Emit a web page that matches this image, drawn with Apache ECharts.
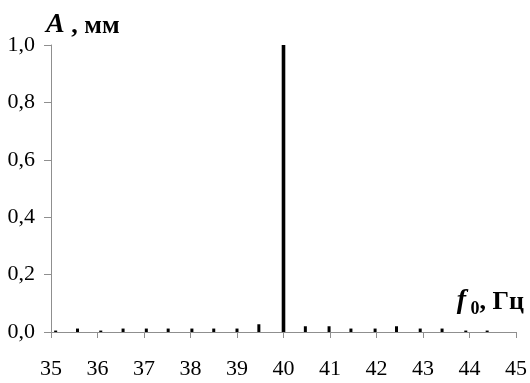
<!DOCTYPE html>
<html>
<head>
<meta charset="utf-8">
<script src="https://cdn.jsdelivr.net/npm/echarts@6/dist/echarts.min.js"></script>
<style>html,body{margin:0;padding:0;background:#fff}#c{width:530px;height:383px}</style>
</head>
<body>
<div id="c"></div>
<script>
var freqs = [35.1, 35.57, 36.07, 36.55, 37.05, 37.52, 38.03, 38.5, 39.0, 39.47, 40.0, 40.47, 40.98, 41.45, 41.97, 42.43, 42.94, 43.41, 43.92, 44.38];
var amps  = [0.005, 0.012, 0.005, 0.012, 0.012, 0.012, 0.012, 0.012, 0.012, 0.027, 1.0, 0.02, 0.02, 0.012, 0.012, 0.02, 0.012, 0.012, 0.005, 0.005];
var yTicks = [0, 0.2, 0.4, 0.6, 0.8, 1.0];

var data = freqs.map(function (f, i) { return [f, amps[i]]; });
var chart = echarts.init(document.getElementById('c'), null, {renderer: 'canvas'});
var serif = '"Liberation Serif", "Times New Roman", serif';
var axisColor = '#8f8f8f';

chart.setOption({
  animation: false,
  backgroundColor: '#fff',
  grid: {left: 51, right: 13, top: 45, bottom: 51},
  xAxis: {
    type: 'value', min: 35, max: 45, interval: 1,
    axisLine: {show: true, lineStyle: {color: axisColor, width: 1}},
    axisTick: {show: true, length: 6, lineStyle: {color: axisColor}},
    splitLine: {show: false},
    axisLabel: {color: '#000', fontFamily: serif, fontSize: 22, margin: 26}
  },
  yAxis: {
    type: 'value', min: 0, max: 1, interval: 0.2,
    axisLine: {show: true, lineStyle: {color: axisColor, width: 1}},
    axisTick: {show: true, length: 7, lineStyle: {color: axisColor}},
    splitLine: {show: false},
    axisLabel: {
      color: '#000', fontFamily: serif, fontSize: 22, margin: 16,
      formatter: function (v) { return v.toFixed(1).replace('.', ','); }
    }
  },
  graphic: [
    {
      type: 'text', left: 46, top: 11,
      style: {
        text: '{a|A}{b| , мм}',
        rich: {
          a: {fontFamily: serif, fontSize: 28, fontWeight: 'bold', fontStyle: 'italic', fill: '#000', verticalAlign: 'bottom'},
          b: {fontFamily: serif, fontSize: 26, fontWeight: 'bold', fill: '#000', verticalAlign: 'bottom'}
        }
      }
    },
    {
      type: 'text', right: 6, top: 287,
      style: {
        text: '{a|f}{s| 0}{b|, Гц}',
        rich: {
          a: {fontFamily: serif, fontSize: 28, fontWeight: 'bold', fontStyle: 'italic', fill: '#000', verticalAlign: 'bottom'},
          s: {fontFamily: serif, fontSize: 18, fontWeight: 'bold', fill: '#000', verticalAlign: 'bottom', padding: [0, 0, -3, 0]},
          b: {fontFamily: serif, fontSize: 26, fontWeight: 'bold', fill: '#000', verticalAlign: 'bottom'}
        }
      }
    }
  ],
  series: [{
    type: 'custom',
    data: data,
    encode: {x: 0, y: 1},
    renderItem: function (params, api) {
      var p0 = api.coord([api.value(0), 0]);
      var p1 = api.coord([api.value(0), api.value(1)]);
      var w = api.value(1) > 0.5 ? 3.6 : 3;
      return {
        type: 'rect',
        shape: {x: p0[0] - w / 2, y: p1[1], width: w, height: p0[1] - p1[1]},
        style: {fill: '#000'}
      };
    },
    z: 5
  }]
});
</script>
</body>
</html>
